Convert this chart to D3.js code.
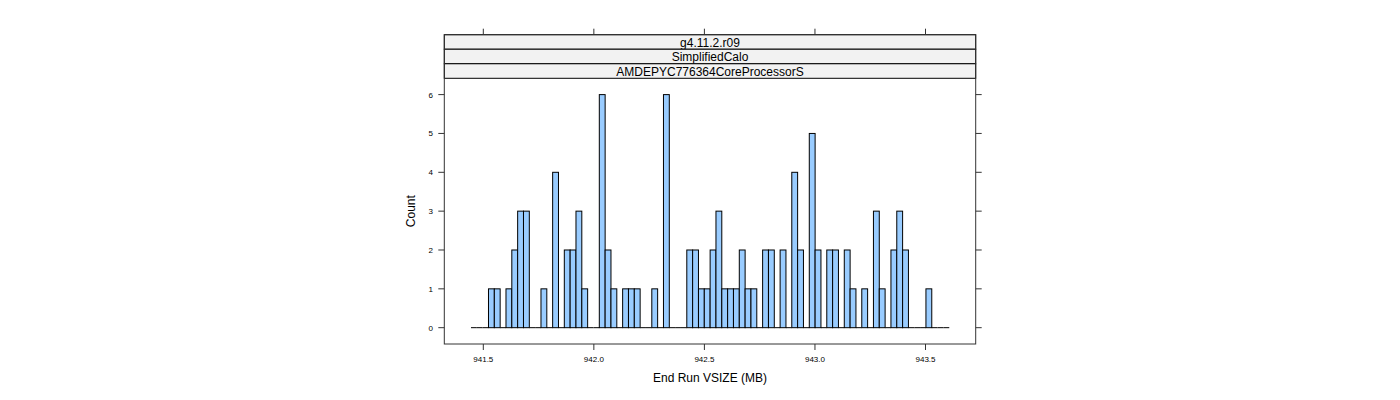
<!DOCTYPE html>
<html>
<head>
<meta charset="utf-8">
<script src="https://cdn.jsdelivr.net/npm/d3@7"></script>
<style>
  body { margin: 0; background: #fff; }
  svg { font-family: "Liberation Sans", Arial, sans-serif; }
</style>
</head>
<body>
<div id="chart"></div>
<script>
// histogram counts per bin (82 bins)
var counts = [0,0,0,1,1,0,1,2,3,3,0,0,1,0,4,0,2,2,3,1,0,0,6,2,1,0,1,1,1,0,0,1,0,6,0,0,0,
  2,2,1,1,2,3,1,1,1,2,1,1,0,2,2,0,2,0,4,2,0,5,2,0,2,2,0,2,1,0,1,0,3,1,0,2,3,2,0,0,0,1,0,0,0]
var binStart = 941.4443, binWidth = 0.02638
var xTicks = [941.5, 942.0, 942.5, 943.0, 943.5]
var yTicks = [0, 1, 2, 3, 4, 5, 6]
var strips = ["g4.11.2.r09", "SimplifiedCalo", "AMDEPYC776364CoreProcessorS"]

var W = 1400, H = 400
var pLeft = 444.3, pRight = 975.7, pTop = 34.7, stripH = 14.53, pBottom = 344
var plotTop = pTop + stripH * strips.length

var svg = d3.select("#chart").append("svg").attr("width", W).attr("height", H)

var x = d3.scaleLinear().domain([941.3236, 943.727]).range([pLeft, pRight])
var y = d3.scaleLinear().domain([-0.42, 6.42]).range([pBottom, plotTop])

var bins = counts.map(function(c, i) { return {x0: binStart + i * binWidth, x1: binStart + (i + 1) * binWidth, n: c} })

// empty bins collapse to a line on zero
svg.append("g").selectAll("line").data(bins.filter(function(d) { return d.n == 0 })).enter().append("line")
  .attr("x1", function(d) { return x(d.x0) }).attr("x2", function(d) { return x(d.x1) })
  .attr("y1", y(0)).attr("y2", y(0))
  .attr("stroke", "#000").attr("stroke-width", 1)

// bars
svg.append("g").selectAll("rect").data(bins.filter(function(d) { return d.n > 0 })).enter().append("rect")
  .attr("x", function(d) { return x(d.x0) })
  .attr("width", function(d) { return x(d.x1) - x(d.x0) })
  .attr("y", function(d) { return y(d.n) })
  .attr("height", function(d) { return y(0) - y(d.n) })
  .style("fill", "#99ccff")
  .attr("stroke", "#000").attr("stroke-width", 1)

// strips
var gs = svg.append("g")
strips.forEach(function(s, i) {
  gs.append("rect").attr("x", pLeft).attr("y", pTop + i * stripH).attr("width", pRight - pLeft).attr("height", stripH)
    .style("fill", "#f2f2f2").attr("stroke", "#000").attr("stroke-width", 1)
  gs.append("text").attr("x", (pLeft + pRight) / 2).attr("y", pTop + i * stripH + stripH / 2 + 4.6)
    .attr("text-anchor", "middle").style("font-size", "12px").text(s)
})

// panel border
svg.append("rect").attr("x", pLeft).attr("y", pTop).attr("width", pRight - pLeft).attr("height", pBottom - pTop)
  .style("fill", "none").attr("stroke", "#333").attr("stroke-width", 1)

// axes
var ax = svg.append("g").attr("stroke", "#333").attr("stroke-width", 1)
xTicks.forEach(function(t) {
  ax.append("line").attr("x1", x(t)).attr("x2", x(t)).attr("y1", pBottom).attr("y2", pBottom + 6)
  ax.append("line").attr("x1", x(t)).attr("x2", x(t)).attr("y1", pTop).attr("y2", pTop - 6)
  svg.append("text").attr("x", x(t)).attr("y", pBottom + 17.5).attr("text-anchor", "middle")
    .style("font-size", "8px").text(d3.format(".1f")(t))
})
yTicks.forEach(function(t) {
  ax.append("line").attr("x1", pLeft).attr("x2", pLeft - 6).attr("y1", y(t)).attr("y2", y(t))
  ax.append("line").attr("x1", pRight).attr("x2", pRight + 6).attr("y1", y(t)).attr("y2", y(t))
  svg.append("text").attr("x", 433).attr("y", y(t) + 3).attr("text-anchor", "end")
    .style("font-size", "8px").text(t)
})

// titles
svg.append("text").attr("x", (pLeft + pRight) / 2).attr("y", 382).attr("text-anchor", "middle")
  .style("font-size", "12px").text("End Run VSIZE (MB)")
svg.append("text").attr("transform", "translate(415," + ((plotTop + pBottom) / 2) + ")rotate(-90)")
  .attr("text-anchor", "middle").style("font-size", "12px").text("Count")
</script>
</body>
</html>
